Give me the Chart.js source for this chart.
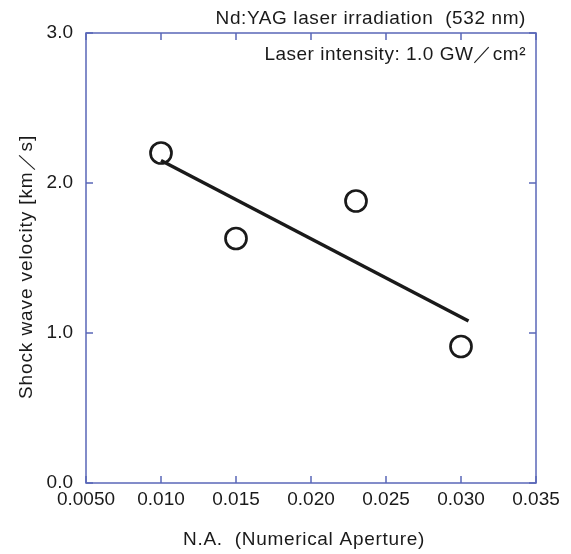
<!DOCTYPE html>
<html>
<head>
<meta charset="utf-8">
<script src="https://cdn.jsdelivr.net/npm/chart.js@4.4.1/dist/chart.umd.min.js"></script>
<style>
  html, body { margin: 0; padding: 0; background: #fff; }
  #wrap { width: 571px; height: 554px; }
</style>
</head>
<body>
<div id="wrap"><canvas id="c1" width="571" height="554"></canvas></div>
<script>
// measured points
const naValues = [0.010, 0.015, 0.023, 0.030];
const velocity = [2.20, 1.63, 1.88, 0.91];
// fitted line ends
const fitNA = [0.0100, 0.0305];
const fitVelocity = [2.15, 1.08];
// tick labels
const xTicks = [0.005, 0.010, 0.015, 0.020, 0.025, 0.030, 0.035];
const xTickLabels = ["0.0050", "0.010", "0.015", "0.020", "0.025", "0.030", "0.035"];
const yTicks = [0, 1, 2, 3];
const yTickLabels = ["0.0", "1.0", "2.0", "3.0"];

const FONT = "'Liberation Sans', Arial, sans-serif";
const AXIS = "#5a67b8";
const INK = "#1a1a1a";

function label(ctx, text, x, y, size, spacing, align) {
  ctx.font = size + "px " + FONT;
  ctx.letterSpacing = spacing + "px";
  ctx.textAlign = align;
  ctx.fillText(text, x, y);
}

const framePlugin = {
  id: "frame",
  afterDraw(chart) {
    const ctx = chart.ctx;
    const a = chart.chartArea;
    const xs = chart.scales.x, ys = chart.scales.y;
    ctx.save();
    ctx.strokeStyle = AXIS;
    ctx.lineWidth = 1.5;
    ctx.strokeRect(a.left, a.top, a.right - a.left, a.bottom - a.top);
    ctx.beginPath();
    xTicks.forEach(v => {
      const px = xs.getPixelForValue(v);
      ctx.moveTo(px, a.bottom); ctx.lineTo(px, a.bottom - 7);
      ctx.moveTo(px, a.top); ctx.lineTo(px, a.top + 7);
    });
    yTicks.forEach(v => {
      const py = ys.getPixelForValue(v);
      ctx.moveTo(a.left, py); ctx.lineTo(a.left + 7, py);
      ctx.moveTo(a.right, py); ctx.lineTo(a.right - 7, py);
    });
    ctx.stroke();

    ctx.fillStyle = INK;
    ctx.textBaseline = "middle";
    label(ctx, "Nd:YAG laser irradiation  (532 nm)", 526, 18.5, 19, 0.6, "right");
    label(ctx, "Laser intensity: 1.0 GW／cm²", 526, 55, 19, 0.5, "right");
    label(ctx, "N.A.  (Numerical Aperture)", 304, 540, 19, 0.7, "center");
    ctx.translate(27, 267);
    ctx.rotate(-Math.PI / 2);
    label(ctx, "Shock wave velocity [km／s]", 0, 0, 19, 0.9, "center");
    ctx.restore();
  }
};

new Chart(document.getElementById("c1"), {
  type: "scatter",
  data: {
    datasets: [{
      type: "line",
      data: fitNA.map((x, i) => ({ x: x, y: fitVelocity[i] })),
      borderColor: INK,
      borderWidth: 3.5,
      pointRadius: 0,
      fill: false
    }, {
      data: naValues.map((x, i) => ({ x: x, y: velocity[i] })),
      pointStyle: "circle",
      pointRadius: 10.5,
      pointBorderWidth: 2.7,
      pointBackgroundColor: "#fff",
      pointBorderColor: INK
    }]
  },
  options: {
    responsive: false,
    animation: false,
    layout: { padding: { left: 0, top: 33, right: 35, bottom: 0 } },
    plugins: { legend: { display: false }, tooltip: { enabled: false } },
    scales: {
      x: {
        type: "linear",
        min: 0.005, max: 0.035,
        afterBuildTicks: s => { s.ticks = xTicks.map(v => ({ value: v })); },
        afterFit: s => { s.height = 71; },
        grid: { display: false, drawTicks: false },
        border: { display: false },
        ticks: {
          color: INK, padding: 5,
          font: { family: FONT, size: 19 },
          callback: (v) => xTickLabels[xTicks.findIndex(t => Math.abs(t - v) < 1e-9)]
        }
      },
      y: {
        type: "linear",
        min: 0, max: 3,
        afterBuildTicks: s => { s.ticks = yTicks.map(v => ({ value: v })); },
        afterFit: s => { s.width = 86; },
        grid: { display: false, drawTicks: false },
        border: { display: false },
        ticks: {
          color: INK, padding: 13,
          font: { family: FONT, size: 19 },
          callback: (v) => yTickLabels[yTicks.indexOf(v)]
        }
      }
    }
  },
  plugins: [framePlugin]
});
</script>
</body>
</html>
